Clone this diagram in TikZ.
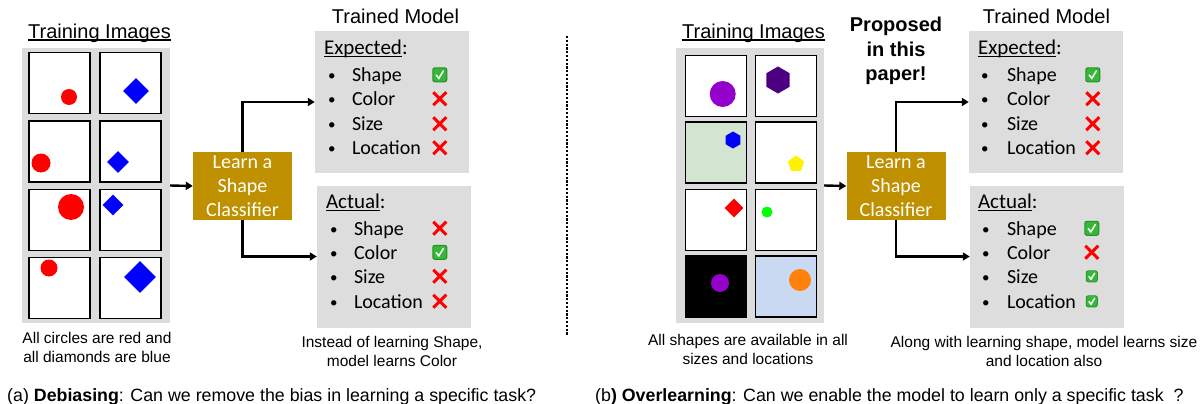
\documentclass[tikz,border=0pt]{standalone}
\usepackage{fontspec}
\setmainfont{Liberation Sans}
\newfontfamily\calibri{Carlito}
\usetikzlibrary{arrows.meta,shapes.geometric,positioning}

\definecolor{imggray}{HTML}{DCDCDC}
\definecolor{panelgray}{HTML}{DDDDDD}
\definecolor{gold}{HTML}{BF9000}
\definecolor{okgreen}{HTML}{35B835}
\definecolor{tilegreen}{HTML}{D3E4D1}
\definecolor{tileblue}{HTML}{C8D9F1}
\definecolor{violetc}{HTML}{9400CC}
\definecolor{indigoc}{HTML}{4B0082}
\definecolor{orangec}{HTML}{FF800D}

% underline with a thicker rule
\newcommand\undl[1]{\setbox0\hbox{#1}\rlap{\rule[-2.6pt]{\wd0}{1.4pt}}\box0}

\begin{document}
\begin{tikzpicture}[
  x=1pt, y=-1pt,
  % styles
  title/.style={font=\fontsize{20}{24}\selectfont, inner sep=0pt},
  imgbg/.style={fill=imggray, minimum width=148pt, minimum height=275pt, inner sep=0pt},
  tile/.style={draw=black, line width=1.6pt, fill=white, minimum size=61pt, inner sep=0pt},
  learnbox/.style={fill=gold, text=white, font=\calibri\fontsize{20}{24}\selectfont, align=center,
    minimum width=99pt, minimum height=68pt, inner sep=0pt},
  modelbox/.style={fill=panelgray, minimum width=154pt, minimum height=142pt, inner sep=0pt},
  heading/.style={font=\calibri\fontsize{21}{24}\selectfont, anchor=base west, inner sep=0pt},
  item/.style={font=\calibri\fontsize{20}{24}\selectfont, anchor=base west, inner sep=0pt},
  dot/.style={font=\calibri\fontsize{15}{18}\selectfont, anchor=base west, inner sep=0pt},
  note/.style={font=\fontsize{15.5}{19}\selectfont, align=center, inner sep=0pt},
  caption/.style={font=\fontsize{17.8}{20}\selectfont, anchor=base west, inner sep=0pt},
  arr/.style={line width=2.4pt, -{Triangle[length=7pt,width=8pt]}},
  ok/.pic={
    \fill[okgreen!75!black, rounded corners=2.5pt] (-7.5,-7.5) rectangle (7.5,7.5);
    \fill[okgreen, rounded corners=2pt] (-6.5,-6.5) rectangle (6.5,6.5);
    \draw[white, line width=1.5pt] (-3.8,0) -- (-1,3.6) -- (3.8,-4.2);
  },
  no/.pic={
    \draw[red, line width=3pt] (-6.5,-6.5) -- (6.5,6.5) (-6.5,6.5) -- (6.5,-6.5);
  }
]
\useasboundingbox (0,0) rectangle (1202,404);

%  Panel (a) 
\node[title] (tr-a) at (99.5,33) {\undl{Training Images}};
\node[imgbg] (bg-a) at (96,185.5) {};
\node[tile] (a11) at (59.5,83) {};
\node[tile] (a12) at (130.5,83) {};
\node[tile] (a21) at (59.5,151.5) {};
\node[tile] (a22) at (130.5,151.5) {};
\node[tile] (a31) at (59.5,220) {};
\node[tile] (a32) at (130.5,220) {};
\node[tile] (a41) at (59.5,288) {};
\node[tile] (a42) at (130.5,288) {};
\fill[red] (69,97) circle (8pt);
\fill[red] (41,163) circle (9.5pt);
\fill[red] (71,207) circle (13pt);
\fill[red] (49,268) circle (8.5pt);
\node[diamond, fill=blue, inner sep=0pt, minimum size=26pt] (d1) at (136,91) {};
\node[diamond, fill=blue, inner sep=0pt, minimum size=22pt] (d2) at (118,162) {};
\node[diamond, fill=blue, inner sep=0pt, minimum size=21pt] (d3) at (113,205) {};
\node[diamond, fill=blue, inner sep=0pt, minimum size=32pt] (d4) at (140,277) {};
\node[note] (n-a) at (97,347.5) {All circles are red and\\all diamonds are blue};

\node[learnbox] (learn-a) at (242.5,186) {Learn a\\Shape\\Classifier};
\draw[arr] (bg-a.east) -- (learn-a.west);

\node[title] (tm-a) at (395.5,16) {Trained Model};
\node[modelbox] (exp-a) at (392,102) {};
\node[modelbox] (act-a) at (394,256.5) {};
\draw[arr] (learn-a.north) |- (exp-a.west);
\draw[arr] (learn-a.south) |- (act-a.west);

\node[heading] (exp-a-h) at ([shift={(9,24)}]exp-a.north west) {\undl{Expected}:};
\foreach \lbl/\mk/\dy [count=\i] in {Shape/ok/44, Color/no/68, Size/no/93, Location/no/117} {
  \node[dot] (exp-a-b\i) at ([shift={(13,\dy+6)}]exp-a.north west) {•};
  \node[item] (exp-a-\i) at ([shift={(37,\dy+7)}]exp-a.north west) {\lbl};
  \pic at ([shift={(125,\dy)}]exp-a.north west) {\mk};
}
\node[heading] (act-a-h) at ([shift={(9,23)}]act-a.north west) {\undl{Actual}:};
\foreach \lbl/\mk/\dy [count=\i] in {Shape/no/43, Color/ok/67, Size/no/91, Location/no/116} {
  \node[dot] (act-a-b\i) at ([shift={(13,\dy+6)}]act-a.north west) {•};
  \node[item] (act-a-\i) at ([shift={(37,\dy+7)}]act-a.north west) {\lbl};
  \pic at ([shift={(123,\dy)}]act-a.north west) {\mk};
}
\node[note] (n-a2) at (392,351.5) {Instead of learning Shape,\\model learns Color};

\node[caption] (cap-a) at (7,401) {(a) \textbf{Debiasing}: Can we remove the bias in learning a specific task?};

%  separator
\draw[line width=2.3pt, dash pattern=on 2.2pt off 1.6pt] (567,36) -- (567,335);

%  Panel (b) 
\node[title] (tr-b) at (753.5,33) {\undl{Training Images}};
\node[imgbg] (bg-b) at (750,185.5) {};
\node[tile] (b11) at (716,86) {};
\node[tile] (b12) at (786,86) {};
\node[tile, fill=tilegreen] (b21) at (716,152.5) {};
\node[tile] (b22) at (786,152.5) {};
\node[tile] (b31) at (716,220) {};
\node[tile] (b32) at (786,220) {};
\node[tile, fill=black] (b41) at (716,286.5) {};
\node[tile, fill=tileblue] (b42) at (786,286.5) {};
\fill[violetc] (722.7,94) circle (13pt);
\node[regular polygon, regular polygon sides=6, shape border rotate=30, fill=indigoc, inner sep=0pt, minimum size=27pt] (h1) at (778,80) {};
\node[regular polygon, regular polygon sides=6, shape border rotate=30, fill=blue, inner sep=0pt, minimum size=17pt] (h2) at (733,140) {};
\node[regular polygon, regular polygon sides=5, fill=yellow, inner sep=0pt, minimum size=17pt] (p1) at (796,164) {};
\node[diamond, fill=red, inner sep=0pt, minimum size=19pt] (d5) at (734,208) {};
\fill[green] (767,212) circle (5.5pt);
\fill[violetc] (720,283) circle (9pt);
\fill[orangec] (800,280) circle (11pt);
\node[note] (n-b) at (748,349.5) {All shapes are available in all\\sizes and locations};

\node[learnbox] (learn-b) at (896,186) {Learn a\\Shape\\Classifier};
\draw[arr] (bg-b.east) -- (learn-b.west);
\node[font=\bfseries\fontsize{20}{24.5}\selectfont, align=center, inner sep=0pt] (prop) at (896,51) {Proposed\\in this\\paper!};

\node[title] (tm-b) at (1046.5,16) {Trained Model};
\node[modelbox] (exp-b) at (1046,102) {};
\node[modelbox] (act-b) at (1047,256.5) {};
\draw[arr] (learn-b.north) |- (exp-b.west);
\draw[arr] (learn-b.south) |- (act-b.west);

\node[heading] (exp-b-h) at ([shift={(9,24)}]exp-b.north west) {\undl{Expected}:};
\foreach \lbl/\mk/\dy [count=\i] in {Shape/ok/44, Color/no/68, Size/no/93, Location/no/117} {
  \node[dot] (exp-b-b\i) at ([shift={(12,\dy+6)}]exp-b.north west) {•};
  \node[item] (exp-b-\i) at ([shift={(38,\dy+7)}]exp-b.north west) {\lbl};
  \pic at ([shift={(124,\dy)}]exp-b.north west) {\mk};
}
\node[heading] (act-b-h) at ([shift={(8,23)}]act-b.north west) {\undl{Actual}:};
\foreach \lbl/\mk/\dy [count=\i] in {Shape/ok/43, Color/no/67} {
  \node[dot] (act-b-b\i) at ([shift={(12,\dy+6)}]act-b.north west) {•};
  \node[item] (act-b-\i) at ([shift={(37,\dy+7)}]act-b.north west) {\lbl};
  \pic at ([shift={(122,\dy)}]act-b.north west) {\mk};
}
\foreach \lbl/\dy [count=\i from 3] in {Size/91, Location/116} {
  \node[dot] (act-b-b\i) at ([shift={(12,\dy+6)}]act-b.north west) {•};
  \node[item] (act-b-\i) at ([shift={(37,\dy+7)}]act-b.north west) {\lbl};
  \pic[scale=0.8] at ([shift={(122,\dy)}]act-b.north west) {ok};
}
\node[note] (n-b2) at (1044,351.5) {Along with learning shape, model learns size\\and location also};

\node[caption] (cap-b) at (595,401) {(b\textbf{) Overlearning}: Can we enable the model to learn only a specific task~~?};
\end{tikzpicture}
\end{document}
